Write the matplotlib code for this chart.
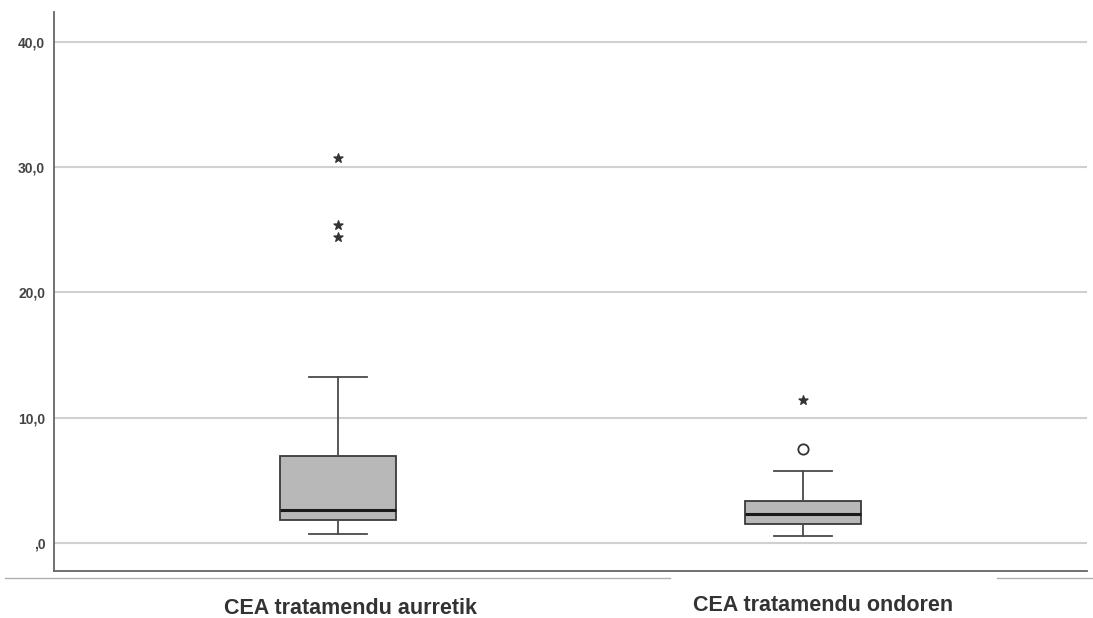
import matplotlib.pyplot as plt
from matplotlib.lines import Line2D

# Daten
labels = ["CEA tratamendu aurretik", "CEA tratamendu ondoren"]
whis_lo = [0.72, 0.56]
q1 = [1.84, 1.52]
med = [2.63, 2.31]
q3 = [6.94, 3.35]
whis_hi = [13.25, 5.75]
mild_out = [[], [7.5]]                  # Kreise
extreme_out = [[30.7, 25.4, 24.4], [11.4]]  # Sterne

yticks = [0, 10, 20, 30, 40]
yticklabels = [",0", "10,0", "20,0", "30,0", "40,0"]

plt.rcParams['font.family'] = ['Liberation Sans Narrow', 'Liberation Sans', 'DejaVu Sans']

fig = plt.figure(figsize=(10.93, 6.18), dpi=100)
ax = fig.add_axes([0.049, 0.076, 0.9455, 0.905])

stats = []
for i in range(len(labels)):
    stats.append({"whislo": whis_lo[i], "q1": q1[i], "med": med[i],
                  "q3": q3[i], "whishi": whis_hi[i], "fliers": []})

ax.bxp(stats, positions=[1, 2], widths=0.25, patch_artist=True,
       showfliers=False, capwidths=0.125,
       boxprops=dict(facecolor="#b8b8b8", edgecolor="#3a3a3a", linewidth=1.3),
       medianprops=dict(color="#1a1a1a", linewidth=2.2),
       whiskerprops=dict(color="#4a4a4a", linewidth=1.3),
       capprops=dict(color="#4a4a4a", linewidth=1.3))

for i in range(len(labels)):
    if mild_out[i]:
        ax.scatter([i + 1] * len(mild_out[i]), mild_out[i], marker="o", s=55,
                   facecolors="white", edgecolors="#333333", linewidths=1.3, zorder=3)
    if extreme_out[i]:
        ax.scatter([i + 1] * len(extreme_out[i]), extreme_out[i], marker="*", s=45,
                   color="#333333", zorder=3)

ax.set_xlim(0.389, 2.611)
ax.set_ylim(-2.23, 42.4)
ax.set_yticks(yticks)
ax.set_yticklabels(yticklabels, fontsize=10, fontweight="bold", color="#444444",
                   family=['Liberation Sans', 'DejaVu Sans'])
ax.tick_params(axis="y", length=0, pad=6)
ax.set_xticks([])
ax.grid(axis="y", color="#d0d0d0", linewidth=1.5)
ax.set_axisbelow(True)

for s in ["top", "right"]:
    ax.spines[s].set_visible(False)
for s in ["left", "bottom"]:
    ax.spines[s].set_color("#666666")
    ax.spines[s].set_linewidth(1.3)

# Kategorienbeschriftungen (leicht nach rechts versetzt wie im Original)
ax.text(1.028, -4.4, labels[0], ha="center", va="top", fontsize=15.5, fontweight="bold",
        color="#333333")
ax.text(2.043, -4.15, labels[1], ha="center", va="top", fontsize=15.5, fontweight="bold",
        color="#333333")

# graue Linien unter der Achse
fig.add_artist(Line2D([0.005, 0.613], [0.064, 0.064], color="#b0b0b0", linewidth=1))
fig.add_artist(Line2D([0.912, 1.0], [0.064, 0.064], color="#b0b0b0", linewidth=1))

plt.savefig("out.png", dpi=100)
